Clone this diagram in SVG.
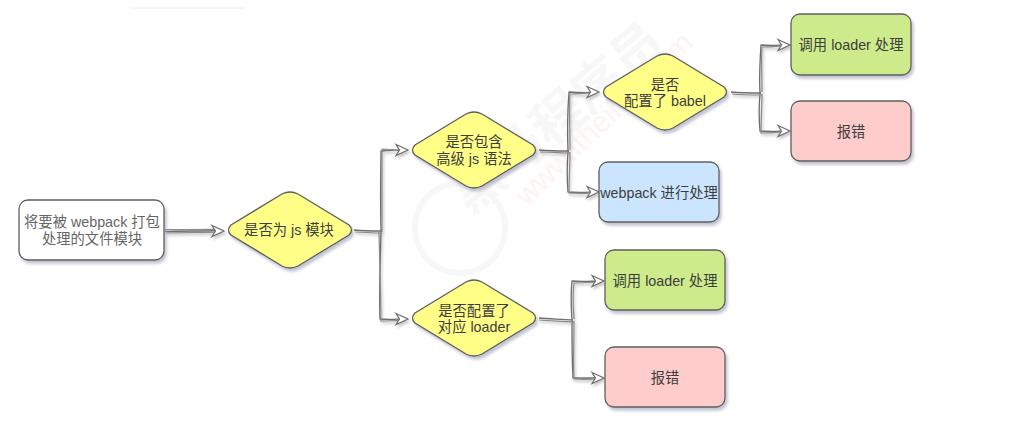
<svg xmlns="http://www.w3.org/2000/svg" width="1017" height="421" viewBox="0 0 1017 421">
<style>
.n{stroke:#5f5f5f;stroke-width:1.3;filter:url(#sh)}
.t{font-family:"Liberation Sans","Noto Sans CJK SC",sans-serif;font-size:14.300px;fill:#3d3d3d;text-anchor:middle}
.c{fill:none;stroke:#6e6e6e;stroke-width:1.300;stroke-linejoin:round}
.c2{fill:none;stroke:#8a8a8a;stroke-width:1.200}
</style>
<defs>
<filter id="sh" x="-10%" y="-10%" width="125%" height="130%"><feDropShadow dx="2" dy="3" stdDeviation="1.600" flood-color="#8f93a8" flood-opacity=".55"/></filter>
<filter id="ls" x="-10%" y="-10%" width="125%" height="125%"><feDropShadow dx="1.500" dy="2.500" stdDeviation="1.200" flood-color="#999" flood-opacity=".5"/></filter>
<path id="d" d="M-59-5Q-64 0-59 5L-8 36Q0 40 8 36L59 5Q64 0 59-5L8-36Q0-40-8-36Z"/>
<path id="a" d="M-12-5.500L0 0L-12 5.500L-8.500 0Z" fill="#fff" stroke="#6e6e6e" stroke-width="1.200"/>
</defs>
<rect width="1017" height="421" fill="#fff"/>
<path d="M130 8H245" stroke="#eee" fill="none"/>
<g id="watermark">
<text transform="translate(470 215) rotate(-40)" font-family="Noto Sans CJK SC,sans-serif" font-size="52" font-weight="700" fill="#f7f7f7">黑马程序员</text>
<text transform="translate(527 207) rotate(-44)" font-family="Liberation Sans,sans-serif" font-size="30" fill="#fdf3f3">www.itheima.com</text>
<circle cx="460" cy="228" r="45" fill="none" stroke="#f7f7f7" stroke-width="6"/>
</g>
<g id="connectors" filter="url(#ls)">
<path class="c" d="M165 231.500C185 231 205 231 222 230.500"/><path class="c2" d="M165 229.500C185 230 205 229 220 229.500M166 233C185 232.500 205 232.500 220 232"/>
<path class="c" d="M354 230C365 231 372 231 382 231M381 231C380 190 381 170 381 151C390 150 398 150 406 150M381 231C380 270 379 300 380 319C390 320 398 319 406 319"/>
<path class="c2" d="M355 232C365 232 372 233 382 233M382 232C382 200 382 170 382 149C390 149 398 151 404 151M379 232C380 270 381 300 381 321C390 321 398 320 404 321"/>
<path class="c" d="M539 150C550 151 558 151 569 151M568 151C567 125 568 105 569 92C580 93 590 93 598 92M568 151C567 165 567 180 568 192C580 193 590 192 598 192"/>
<path class="c2" d="M540 152C550 152 558 153 570 153M570 150C570 125 569 105 570 94C580 94 590 92 596 93M570 152C570 165 569 180 569 193C580 194 590 193 596 193"/>
<path class="c" d="M731 92C742 93 750 93 761 93M760 93C759 75 760 60 761 45C772 46 780 45 789 45M760 93C759 105 759 120 760 131C772 132 780 131 789 131"/>
<path class="c2" d="M732 94C742 95 750 95 762 95M762 92C762 75 761 60 762 47C772 47 780 46 787 46M762 94C762 105 761 120 761 133C772 133 780 132 787 132"/>
<path class="c" d="M539 318C550 319 560 319 573 320M572 320C571 305 571 290 572 281C582 282 592 281 603 281M572 320C572 340 572 360 573 378C583 378 592 378 603 378"/>
<path class="c2" d="M539 320C550 321 560 321 574 322M574 319C573 305 573 290 574 283C582 283 592 282 601 282M574 321C574 340 573 360 574 379C583 380 592 379 601 379"/>
<use href="#a" x="224" y="231"/><use href="#a" x="408" y="150"/><use href="#a" x="408" y="319"/><use href="#a" x="599" y="92"/><use href="#a" x="599" y="192"/><use href="#a" x="790" y="45"/><use href="#a" x="790" y="131"/><use href="#a" x="604" y="281"/><use href="#a" x="604" y="378"/>
</g>
<g id="start"><rect class="n" x="19" y="200" width="145" height="60" rx="9" fill="#fff"/><text class="t" style="fill:#666"><tspan x="92" y="227">将要被 webpack 打包</tspan><tspan x="92" y="244">处理的文件模块</tspan></text></g>
<g id="d1"><use href="#d" class="n" x="290" y="230" fill="#ffff88"/><text class="t" x="289" y="235">是否为 js 模块</text></g>
<g id="d2"><use href="#d" class="n" x="474" y="150" fill="#ffff88"/><text class="t"><tspan x="474" y="147">是否包含</tspan><tspan x="474" y="164">高级 js 语法</tspan></text></g>
<g id="d3"><use href="#d" class="n" x="665" y="92" fill="#ffff88"/><text class="t"><tspan x="665" y="90">是否</tspan><tspan x="665" y="106">配置了 babel</tspan></text></g>
<g id="d4"><use href="#d" class="n" x="474" y="318" fill="#ffff88"/><text class="t"><tspan x="474" y="316">是否配置了</tspan><tspan x="474" y="332">对应 loader</tspan></text></g>
<g id="g1"><rect class="n" x="791" y="14" width="120" height="61" rx="9" fill="#cdeb8b"/><text class="t" x="851" y="50">调用 loader 处理</text></g>
<g id="r1"><rect class="n" x="791" y="101" width="120" height="60" rx="9" fill="#ffcccc"/><text class="t" x="851" y="137">报错</text></g>
<g id="b1"><rect class="n" x="599" y="162" width="120" height="60" rx="9" fill="#cce5ff"/><text class="t" x="659" y="198">webpack 进行处理</text></g>
<g id="g2"><rect class="n" x="605" y="250" width="120" height="60" rx="9" fill="#cdeb8b"/><text class="t" x="665" y="286">调用 loader 处理</text></g>
<g id="r2"><rect class="n" x="605" y="347" width="120" height="60" rx="9" fill="#ffcccc"/><text class="t" x="665" y="383">报错</text></g>
</svg>
